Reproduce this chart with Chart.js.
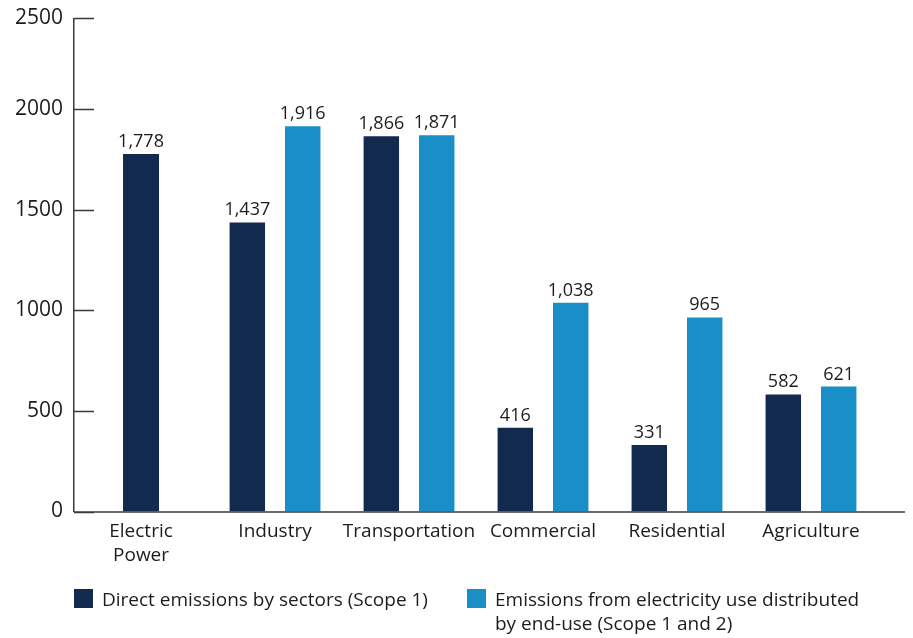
<!DOCTYPE html>
<html>
<head>
<meta charset="utf-8">
<script src="https://cdn.jsdelivr.net/npm/chart.js@4"></script>
<style>
  html, body { margin: 0; padding: 0; background: #fff; }
  #wrap { width: 913px; height: 638px; }
</style>
</head>
<body>
<div id="wrap"><canvas id="barChart"></canvas></div>
<script>
// sectors and emissions values
var sectors = [ [ 'Electric', 'Power' ], 'Industry', 'Transportation', 'Commercial', 'Residential', 'Agriculture' ];
var directEmissions = [ 1778, 1437, 1866, 416, 331, 582 ];
var endUseEmissions = [ null, 1916, 1871, 1038, 965, 621 ];
var seriesNames = [ 'Direct emissions by sectors (Scope 1)', 'Emissions from electricity use distributed by end-use (Scope 1 and 2)' ];
var legendLines = [ [ 'Direct emissions by sectors (Scope 1)' ], [ 'Emissions from electricity use distributed', 'by end-use (Scope 1 and 2)' ] ];
// in the original the axis ends a bit below 2500 and the top tick is labelled 2500 there
var yAxisTop = 2452;
var yTickValues = [ 0, 500, 1000, 1500, 2000, 2452 ];
var yTickLabels = [ '0', '500', '1000', '1500', '2000', '2500' ];

var darkBlue = '#132a4f';
var lightBlue = '#1a8fc7';
var textColor = '#1c1c1c';
var fontName = '"Open Sans", sans-serif';

// value labels above bars, inward tick marks, extended baseline and legend
var extras = {
	id : 'extras',
	afterDatasetsDraw : function(chart) {
		var ctx = chart.ctx;
		ctx.save();
		ctx.font = '18px ' + fontName;
		ctx.fillStyle = textColor;
		ctx.textAlign = 'center';
		ctx.textBaseline = 'alphabetic';
		chart.data.datasets.forEach(function(ds, i) {
			var meta = chart.getDatasetMeta(i);
			meta.data.forEach(function(bar, j) {
				if (ds.data[j] == null) return;
				ctx.fillText(ds.data[j].toLocaleString('en-US'), bar.x, bar.y - 7);
			});
		});
		ctx.restore();
	},
	afterDraw : function(chart) {
		var ctx = chart.ctx;
		var area = chart.chartArea;
		var yScale = chart.scales.y;
		ctx.save();
		ctx.strokeStyle = '#3a3a3a';
		ctx.lineWidth = 1.5;
		ctx.beginPath();
		yScale.ticks.forEach(function(t) {
			var py = Math.round(yScale.getPixelForValue(t.value)) + 0.5;
			ctx.moveTo(area.left, py);
			ctx.lineTo(area.left + 20, py);
		});
		ctx.moveTo(area.left, area.bottom + 0.5);
		ctx.lineTo(905, area.bottom + 0.5);
		ctx.stroke();

		// legend
		var colors = [ darkBlue, lightBlue ];
		var boxX = [ 74, 467 ];
		ctx.font = '19px ' + fontName;
		ctx.textAlign = 'left';
		ctx.textBaseline = 'alphabetic';
		legendLines.forEach(function(lines, i) {
			ctx.fillStyle = colors[i];
			ctx.fillRect(boxX[i], 589, 19, 19);
			ctx.fillStyle = textColor;
			lines.forEach(function(line, k) {
				ctx.fillText(line, boxX[i] + 28, 606 + k * 24);
			});
		});
		ctx.restore();
	}
};

var ctx = document.getElementById('barChart').getContext('2d');
var myBarChart = new Chart(ctx, {
	type : 'bar',
	data : {
		labels : sectors,
		datasets : [ {
			label : seriesNames[0],
			data : directEmissions,
			backgroundColor : darkBlue
		}, {
			label : seriesNames[1],
			data : endUseEmissions,
			backgroundColor : lightBlue
		} ]
	},
	plugins : [ extras ],
	options : {
		responsive : true,
		maintainAspectRatio : false,
		animation : false,
		skipNull : true,
		categoryPercentage : 0.827,
		barPercentage : 0.64,
		maxBarThickness : 36,
		layout : {
			padding : { left : 4, right : 35, top : 14, bottom : 63 }
		},
		plugins : {
			legend : { display : false },
			tooltip : { enabled : false }
		},
		scales : {
			x : {
				grid : { display : false, drawTicks : false },
				border : { display : false },
				ticks : {
					color : textColor,
					padding : 8,
					maxRotation : 0,
					autoSkip : false,
					font : { family : fontName, size : 19, lineHeight : 1.25 }
				}
			},
			y : {
				min : 0,
				max : yAxisTop,
				afterBuildTicks : function(scale) {
					scale.ticks = yTickValues.map(function(v) { return { value : v }; });
				},
				grid : { display : false, drawTicks : false },
				border : { display : true, color : '#3a3a3a', width : 1.5 },
				ticks : {
					color : textColor,
					padding : 11,
					font : { family : fontName, size : 21, lineHeight : 0.7 },
					callback : function(v, i) { return yTickLabels[i]; }
				}
			}
		}
	}
});
</script>
</body>
</html>
